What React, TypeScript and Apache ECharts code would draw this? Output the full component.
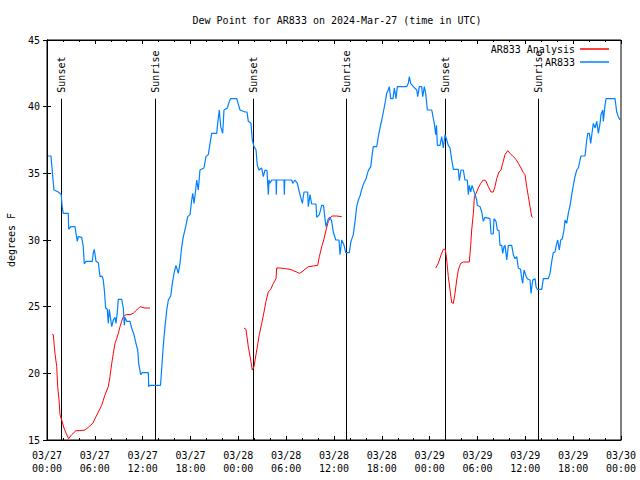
import React, { useEffect, useRef } from "react";
import * as echarts from "echarts";

const chartTitle = "Dew Point for AR833 on 2024-Mar-27 (time in UTC)";
const yAxisName = "degrees F";
const startUtc = Date.UTC(2024, 2, 27, 0, 0);
const hoursMin = 0;
const hoursMax = 72;
const tempMin = 15;
const tempMax = 45;

// Observed station dew point: [hours since 03/27 00:00 UTC, °F]
const observed: [number, number][] = [
  [0.13,36.3],[0.50,36.3],[0.72,34.75],[0.88,33.75],[1.42,33.6],[1.79,33.4],[1.88,32.6],[2.04,32.0],[2.67,32.0],[2.72,30.8],[2.97,31.0],[3.51,31.0],[3.80,29.9],[3.93,30.25],[4.35,30.2],[4.55,29.5],[4.68,28.2],[4.89,28.4],[5.68,28.4],[5.81,29.05],[5.93,29.3],[6.15,28.4],[6.44,28.3],[6.65,27.25],[6.90,27.3],[7.06,27.0],[7.19,26.25],[7.36,24.9],[7.56,24.8],[7.69,23.75],[7.81,24.8],[8.12,23.5],[8.32,24.0],[8.53,24.2],[8.66,23.75],[8.82,24.6],[8.94,25.55],[9.37,25.55],[9.57,24.9],[9.70,23.6],[9.78,24.2],[10.00,23.9],[10.41,23.9],[10.62,23.4],[10.91,22.9],[11.16,22.25],[11.38,21.75],[11.50,20.75],[11.75,19.9],[11.95,20.05],[12.71,20.05],[12.76,19.0],[12.92,19.1],[14.24,19.1],[14.39,20.4],[14.59,22.1],[14.80,23.5],[15.02,24.75],[15.22,25.5],[15.52,25.8],[15.72,26.75],[15.97,27.6],[16.18,28.1],[16.47,27.5],[16.68,28.25],[16.90,29.5],[17.10,30.25],[17.40,31.0],[17.65,31.75],[17.94,31.9],[18.15,33.0],[18.28,33.5],[18.44,32.75],[18.65,33.75],[18.78,34.5],[18.98,33.75],[19.19,35.25],[19.69,35.4],[19.94,36.25],[20.23,36.4],[20.45,37.25],[20.66,38.0],[21.29,38.0],[21.41,38.75],[21.61,39.75],[21.79,38.5],[22.04,38.0],[22.20,39.75],[22.62,39.9],[22.87,40.4],[23.04,40.6],[23.80,40.6],[24.21,39.75],[24.84,39.6],[25.09,39.6],[25.25,38.9],[25.59,38.75],[25.75,37.5],[25.97,37.0],[26.22,36.75],[26.38,35.6],[26.59,35.25],[26.93,35.4],[27.13,34.75],[27.35,35.25],[27.60,35.2],[27.76,33.4],[27.85,34.5],[27.97,34.25],[28.19,34.5],[28.73,34.5],[28.76,33.4],[28.81,34.5],[29.73,34.5],[29.77,33.4],[29.82,34.5],[30.70,34.5],[30.82,34.25],[31.11,34.5],[31.40,34.25],[31.65,33.6],[32.03,32.75],[32.24,33.6],[32.70,33.6],[32.78,32.5],[32.99,33.4],[33.20,32.7],[33.74,32.7],[33.83,31.7],[34.16,31.9],[34.46,32.6],[34.68,32.6],[34.87,31.6],[35.00,31.0],[35.29,31.6],[35.50,31.7],[35.71,31.4],[35.91,30.6],[36.22,30.0],[36.63,30.0],[36.75,28.9],[36.97,30.0],[37.26,29.6],[37.47,29.05],[37.92,29.05],[38.13,29.9],[38.42,30.4],[38.64,31.4],[38.85,32.5],[39.05,33.0],[39.26,33.3],[39.48,33.8],[39.76,34.3],[40.02,34.6],[40.30,35.2],[40.61,35.5],[40.81,36.5],[40.93,37.0],[41.36,37.0],[41.56,37.75],[41.77,38.4],[41.99,39.0],[42.19,39.6],[42.40,40.25],[42.61,41.0],[42.81,41.25],[42.94,41.5],[43.11,40.6],[43.40,40.6],[43.57,41.4],[43.78,40.6],[43.94,41.5],[45.12,41.5],[45.32,41.75],[45.45,42.25],[45.62,41.75],[45.95,41.5],[46.38,41.25],[46.50,40.75],[46.70,41.5],[47.00,41.5],[47.13,40.75],[47.33,41.5],[47.50,41.0],[47.71,39.75],[48.26,39.75],[48.46,39.1],[48.58,38.75],[48.76,37.9],[48.86,38.6],[48.96,37.1],[49.30,37.1],[49.51,37.75],[49.71,36.9],[49.93,37.9],[50.14,37.5],[50.34,37.1],[50.55,36.9],[50.77,36.0],[50.97,35.3],[51.59,35.3],[51.72,34.45],[51.93,35.25],[52.22,35.25],[52.43,34.5],[52.72,34.5],[52.85,33.4],[52.97,34.1],[53.15,33.6],[53.31,34.1],[53.48,33.8],[53.69,33.4],[53.90,33.0],[53.98,32.6],[54.32,32.5],[54.53,32.1],[54.73,31.4],[54.94,31.7],[55.57,31.6],[55.70,30.45],[55.98,30.45],[56.07,31.6],[56.32,31.4],[56.49,30.75],[56.70,30.7],[56.82,29.6],[57.04,29.6],[57.16,29.0],[57.33,29.5],[57.45,29.6],[57.67,28.5],[57.87,29.6],[58.29,29.6],[58.49,28.9],[58.71,28.6],[58.92,28.75],[59.12,27.9],[59.40,27.8],[59.55,27.1],[59.67,26.75],[59.84,27.75],[60.09,27.3],[60.25,27.1],[60.59,27.0],[60.71,26.0],[60.93,27.0],[61.22,27.1],[61.34,26.5],[61.50,26.3],[62.06,26.3],[62.26,27.1],[62.88,27.1],[63.10,27.5],[63.31,28.4],[63.51,29.05],[63.72,29.1],[63.94,29.75],[64.06,30.0],[64.26,29.25],[64.44,30.0],[64.64,30.1],[64.85,30.75],[64.98,31.5],[65.19,31.25],[65.39,32.0],[65.61,32.6],[65.82,33.4],[66.02,34.1],[66.23,34.75],[66.45,35.25],[66.65,35.4],[66.86,36.0],[66.99,36.3],[67.49,36.3],[67.70,37.5],[67.83,38.0],[68.03,38.0],[68.20,37.25],[68.36,38.0],[68.53,38.75],[68.74,38.4],[68.96,38.9],[69.16,38.0],[69.37,38.75],[69.49,39.4],[69.71,39.75],[69.78,38.9],[70.00,40.1],[70.12,40.6],[71.25,40.6],[71.46,39.6],[71.67,39.25],[71.88,39.0]
];

// Model analysis, three overnight runs: [hours, °F]
const analysisNight1: [number, number][] = [
  [0.66,22.9],[0.79,22.9],[1.00,21.5],[1.22,20.5],[1.34,19.0],[1.51,18.0],[1.63,16.9],[1.84,16.5],[2.13,15.9],[2.47,15.4],[2.72,15.1],[3.10,15.4],[3.64,15.7],[4.14,15.7],[4.77,15.75],[5.18,15.95],[5.73,16.25],[6.02,16.6],[6.44,17.1],[6.86,17.6],[7.28,18.4],[7.69,19.0],[7.90,19.75],[8.12,20.75],[8.32,21.5],[8.53,22.25],[8.74,22.6],[8.94,23.0],[9.16,23.5],[9.37,23.9],[9.57,24.25],[9.91,24.4],[10.41,24.4],[10.83,24.5],[11.25,24.75],[11.67,25.0],[12.29,24.9],[12.92,24.9]
];
const analysisNight2: [number, number][] = [
  [24.71,23.4],[24.96,23.3],[25.25,22.0],[25.55,21.0],[25.75,20.25],[25.97,20.5],[26.31,21.75],[26.63,22.9],[26.93,23.75],[27.22,24.6],[27.47,25.4],[27.76,26.1],[28.06,26.3],[28.39,26.75],[28.73,27.1],[28.81,27.9],[29.23,27.9],[29.85,27.85],[30.48,27.8],[30.90,27.7],[31.32,27.6],[31.65,27.5],[31.95,27.6],[32.36,27.8],[32.78,28.0],[33.41,28.05],[33.96,28.1],[34.16,28.75],[34.46,29.5],[34.75,30.1],[35.00,30.75],[35.29,31.4],[35.50,31.6],[35.71,31.8],[36.34,31.8],[36.97,31.75]
];
const analysisNight3: [number, number][] = [
  [48.76,27.9],[49.08,28.25],[49.38,28.8],[49.71,29.3],[49.96,29.3],[50.14,28.5],[50.34,27.25],[50.55,26.25],[50.77,25.3],[50.97,25.25],[51.18,26.0],[51.39,27.0],[51.59,27.75],[51.89,28.25],[52.22,28.35],[52.97,28.35],[53.15,29.6],[53.27,30.75],[53.48,32.0],[53.61,33.25],[53.82,33.5],[54.10,33.9],[54.40,34.25],[54.73,34.5],[55.03,34.45],[55.36,34.0],[55.70,33.6],[55.98,33.6],[56.19,34.0],[56.41,34.6],[56.70,35.1],[56.95,35.25],[57.16,35.75],[57.45,36.4],[57.79,36.7],[58.08,36.5],[58.49,36.25],[58.83,36.05],[59.12,35.75],[59.46,35.4],[59.75,35.05],[59.96,34.9],[60.17,34.0],[60.38,33.25],[60.59,32.5],[60.80,31.75],[60.93,31.7]
];

const sunEventHours = [1.79, 13.59, 25.88, 37.55, 49.97, 61.64];
const sunEventLabels = ["Sunset", "Sunrise", "Sunset", "Sunrise", "Sunset", "Sunrise"];

const FONT = "'DejaVu Sans Mono', 'Liberation Mono', monospace";
const RED = "#ff0000";
const BLUE = "#0080ff";
const EVENT_LINE_TOP = 40.6;

function fmtHour(h: number): string {
  const d = new Date(startUtc + h * 3600000);
  const p = (n: number) => String(n).padStart(2, "0");
  return `${p(d.getUTCMonth() + 1)}/${p(d.getUTCDate())}\n${p(d.getUTCHours())}:${p(d.getUTCMinutes())}`;
}

export default function App() {
  const ref = useRef<HTMLDivElement>(null);
  useEffect(() => {
    if (!ref.current) return;
    const chart = echarts.init(ref.current, undefined, { renderer: "svg" });
    const textStyle = { fontFamily: FONT, fontSize: 10, color: "#000" };
    const xBase = {
      type: "value" as const,
      min: hoursMin,
      max: hoursMax,
      interval: 6,
      splitLine: { show: false },
      axisLine: { show: true, lineStyle: { color: "#000", width: 1 } },
      axisTick: { show: true, inside: true, length: 4, lineStyle: { color: "#000" } },
      minorTick: { show: true, splitNumber: 3, length: 2, lineStyle: { color: "#000" } },
    };
    const yBase = {
      type: "value" as const,
      min: tempMin,
      max: tempMax,
      interval: 5,
      splitLine: { show: false },
      axisLine: { show: true, lineStyle: { color: "#000", width: 1 } },
      axisTick: { show: true, inside: true, length: 4, lineStyle: { color: "#000" } },
    };
    const legendBase = {
      orient: "vertical" as const,
      align: "right" as const,
      right: 26,
      itemWidth: 29,
      itemHeight: 1.5,
      icon: "rect",
      textStyle: { ...textStyle },
      selectedMode: false,
    };
    const lineSeries = (name: string, data: [number, number][], color: string, width: number) => ({
      type: "line" as const,
      name,
      data,
      symbol: "none",
      showSymbol: false,
      color,
      itemStyle: { color },
      lineStyle: { color, width },
      z: 3,
    });
    chart.setOption({
      animation: false,
      backgroundColor: "#fff",
      title: {
        text: chartTitle,
        left: 332,
        textAlign: "center",
        top: 10,
        textStyle: { ...textStyle, fontWeight: "normal" },
      },
      legend: [
        { ...legendBase, data: ["AR833 Analysis"], top: 39 },
        { ...legendBase, data: ["AR833"], top: 52 },
      ],
      grid: {
        left: 47,
        right: 19,
        top: 40,
        bottom: 40,
        show: true,
        borderColor: "#000",
        borderWidth: 1,
        containLabel: false,
        outerBoundsMode: "none",
      },
      xAxis: [
        {
          ...xBase,
          position: "bottom",
          axisLabel: {
            ...textStyle,
            margin: 9,
            lineHeight: 13,
            formatter: (v: number) => fmtHour(v),
          },
        },
        { ...xBase, position: "top", axisLabel: { show: false } },
      ],
      yAxis: [
        {
          ...yBase,
          position: "left",
          name: yAxisName,
          nameLocation: "middle",
          nameGap: 31,
          nameTextStyle: { ...textStyle },
          axisLabel: { ...textStyle, margin: 7 },
        },
        { ...yBase, position: "right", axisLabel: { show: false } },
      ],
      series: [
        {
          type: "custom",
          name: "sun",
          silent: true,
          z: 2,
          data: sunEventHours.map((h) => [h, tempMin]),
          renderItem: (params: any, api: any) => {
            const h = api.value(0);
            const top = api.coord([h, EVENT_LINE_TOP]);
            const bot = api.coord([h, tempMin]);
            const x = Math.round(top[0]) + 0.5;
            return {
              type: "group",
              children: [
                {
                  type: "line",
                  shape: { x1: x, y1: top[1], x2: x, y2: bot[1] },
                  style: { stroke: "#000", lineWidth: 1 },
                },
                {
                  type: "text",
                  x: x,
                  y: top[1] - 6,
                  rotation: Math.PI / 2,
                  style: {
                    text: sunEventLabels[params.dataIndex],
                    fill: "#000",
                    font: `10px ${FONT}`,
                    textAlign: "left",
                    textVerticalAlign: "middle",
                  },
                },
              ],
            };
          },
        },
        lineSeries("AR833 Analysis", analysisNight1, RED, 1),
        lineSeries("AR833 Analysis", analysisNight2, RED, 1),
        lineSeries("AR833 Analysis", analysisNight3, RED, 1),
        lineSeries("AR833", observed, BLUE, 1.2),
      ],
    });
    return () => chart.dispose();
  }, []);
  return <div ref={ref} style={{ width: 640, height: 480, position: "absolute", left: 0, top: 0 }} />;
}
